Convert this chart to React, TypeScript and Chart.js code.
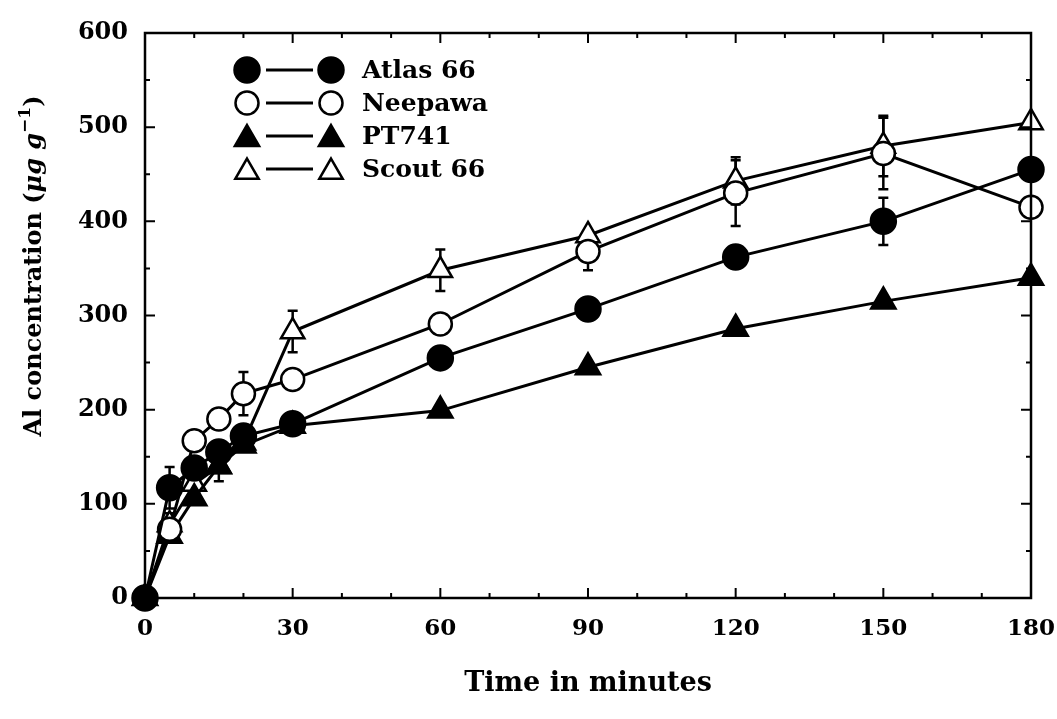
import React, { useEffect, useRef } from "react";
import { Chart, registerables } from "chart.js";
Chart.register(...registerables);

const times = [0, 5, 10, 15, 20, 30, 60, 90, 120, 150, 180];
const atlas66 = [0, 117, 138, 155, 172, 185, 255, 307, 362, 400, 455];
const neepawa = [0, 73, 167, 190, 217, 232, 291, 368, 430, 472, 415];
const pt741 = [0, 66, 106, 140, 162, 183, 199, 245, 286, 315, 340];
const scout66 = [0, 78, 121, 140, 165, 283, 348, 385, 443, 480, 505];

const atlas66Err = [0, 22, 0, 0, 0, 0, 0, 0, 0, 25, 0];
const neepawaErr = [0, 0, 0, 0, 23, 0, 0, 20, 35, 38, 0];
const pt741Err = [0, 0, 0, 0, 0, 0, 0, 0, 0, 0, 0];
const scout66Err = [0, 12, 0, 16, 0, 22, 22, 0, 25, 32, 0];

const seriesNames = ["Atlas 66", "Neepawa", "PT741", "Scout 66"];
const xMajorTicks = [0, 30, 60, 90, 120, 150, 180];
const xMinorTicks = [10, 20, 40, 50, 70, 80, 100, 110, 130, 140, 160, 170];
const yMajorTicks = [0, 100, 200, 300, 400, 500, 600];
const yMinorTicks = [50, 150, 250, 350, 450, 550];

const FONT = "'DejaVu Serif', serif";

const styles = [
  { pointStyle: "circle", fill: "#000", radius: 12.5 },
  { pointStyle: "circle", fill: "#fff", radius: 11.5 },
  { pointStyle: "triangle", fill: "#000", radius: 14 },
  { pointStyle: "triangle", fill: "#fff", radius: 13.5 },
];

const seriesValues = [atlas66, neepawa, pt741, scout66];
const seriesErrs = [atlas66Err, neepawaErr, pt741Err, scout66Err];

function drawMarker(ctx: CanvasRenderingContext2D, style: string, x: number, y: number, r: number) {
  ctx.beginPath();
  if (style === "circle") {
    ctx.arc(x, y, r, 0, Math.PI * 2);
  } else {
    let rad = 0;
    ctx.moveTo(x + Math.sin(rad) * r, y - Math.cos(rad) * r);
    rad += (2 * Math.PI) / 3;
    ctx.lineTo(x + Math.sin(rad) * r, y - Math.cos(rad) * r);
    rad += (2 * Math.PI) / 3;
    ctx.lineTo(x + Math.sin(rad) * r, y - Math.cos(rad) * r);
    ctx.closePath();
  }
  ctx.fill();
  ctx.stroke();
}

export default function App() {
  const ref = useRef<HTMLCanvasElement>(null);
  useEffect(() => {
    document.body.style.margin = "0";
    const canvas = ref.current!;

    const errorBars = {
      id: "errorBars",
      beforeDatasetsDraw(chart: any) {
        const ctx = chart.ctx;
        const xs = chart.scales.x;
        const ys = chart.scales.y;
        ctx.save();
        ctx.strokeStyle = "#000";
        ctx.lineWidth = 2.5;
        seriesErrs.forEach((errs, si) => {
          errs.forEach((e, i) => {
            if (!e) return;
            const v = seriesValues[si][i];
            const px = xs.getPixelForValue(times[i]);
            const yHi = ys.getPixelForValue(v + e);
            const yLo = ys.getPixelForValue(v - e);
            ctx.beginPath();
            ctx.moveTo(px, yHi);
            ctx.lineTo(px, yLo);
            ctx.moveTo(px - 5, yHi);
            ctx.lineTo(px + 5, yHi);
            ctx.moveTo(px - 5, yLo);
            ctx.lineTo(px + 5, yLo);
            ctx.stroke();
          });
        });
        ctx.restore();
      },
    };

    const frame = {
      id: "frame",
      afterDraw(chart: any) {
        const ctx = chart.ctx;
        const a = chart.chartArea;
        const xs = chart.scales.x;
        const ys = chart.scales.y;
        ctx.save();
        ctx.strokeStyle = "#000";
        ctx.lineWidth = 2.5;
        ctx.strokeRect(a.left, a.top, a.right - a.left, a.bottom - a.top);
        ctx.lineWidth = 2;
        ctx.beginPath();
        const tx = (v: number, len: number) => {
          const p = xs.getPixelForValue(v);
          ctx.moveTo(p, a.bottom);
          ctx.lineTo(p, a.bottom - len);
          ctx.moveTo(p, a.top);
          ctx.lineTo(p, a.top + len);
        };
        const ty = (v: number, len: number) => {
          const p = ys.getPixelForValue(v);
          ctx.moveTo(a.left, p);
          ctx.lineTo(a.left + len, p);
          ctx.moveTo(a.right, p);
          ctx.lineTo(a.right - len, p);
        };
        xMajorTicks.forEach((v) => tx(v, 10));
        xMinorTicks.forEach((v) => tx(v, 5));
        yMajorTicks.forEach((v) => ty(v, 10));
        yMinorTicks.forEach((v) => ty(v, 5));
        ctx.stroke();

        // axis titles
        ctx.fillStyle = "#000";
        ctx.textBaseline = "middle";
        ctx.textAlign = "center";
        ctx.font = `bold 27px ${FONT}`;
        ctx.fillText("Time in minutes", 588, 684);

        // y title, rotated, with superscript
        const parts = [
          { t: "Al concentration (", f: `bold 24px ${FONT}`, dy: 0 },
          { t: "μg g", f: `italic bold 24px ${FONT}`, dy: 0 },
          { t: "−1", f: `bold 17px ${FONT}`, dy: -11 },
          { t: ")", f: `bold 24px ${FONT}`, dy: 0 },
        ];
        let total = 0;
        parts.forEach((p) => {
          ctx.font = p.f;
          total += ctx.measureText(p.t).width;
        });
        ctx.translate(32, 266);
        ctx.rotate(-Math.PI / 2);
        ctx.textAlign = "left";
        ctx.textBaseline = "alphabetic";
        let cx = -total / 2;
        parts.forEach((p) => {
          ctx.font = p.f;
          ctx.fillText(p.t, cx, 9 + p.dy);
          cx += ctx.measureText(p.t).width;
        });
        ctx.restore();

        // legend
        ctx.save();
        const rows = [70, 103, 136, 169];
        seriesNames.forEach((name, i) => {
          const y = rows[i];
          const st = styles[i];
          const yy = st.pointStyle === "triangle" ? y + 3 : y;
          ctx.strokeStyle = "#000";
          ctx.lineWidth = 3;
          ctx.beginPath();
          ctx.moveTo(266, y);
          ctx.lineTo(313, y);
          ctx.stroke();
          [247, 331].forEach((x) => {
            ctx.fillStyle = st.fill;
            ctx.strokeStyle = "#000";
            ctx.lineWidth = 2.5;
            drawMarker(ctx, st.pointStyle, x, yy, st.radius);
          });
          ctx.fillStyle = "#000";
          ctx.font = `bold 25px ${FONT}`;
          ctx.textAlign = "left";
          ctx.textBaseline = "middle";
          ctx.fillText(name, 362, y + 1);
        });
        ctx.restore();
      },
    };

    const datasets = seriesNames.map((name, i) => ({
      label: name,
      data: times.map((t, j) => ({ x: t, y: seriesValues[i][j] })),
      borderColor: "#000",
      borderWidth: 3,
      pointStyle: styles[i].pointStyle,
      pointRadius: styles[i].radius,
      pointBackgroundColor: styles[i].fill,
      pointBorderColor: "#000",
      pointBorderWidth: 2.5,
      tension: 0,
      clip: false,
    }));

    const chart = new Chart(canvas, {
      type: "line",
      data: { datasets },
      options: {
        animation: false,
        responsive: true,
        maintainAspectRatio: false,
        layout: { padding: { left: 0, top: 33, right: 26, bottom: 0 } },
        plugins: { legend: { display: false }, tooltip: { enabled: false } },
        scales: {
          x: {
            type: "linear",
            min: 0,
            max: 180,
            grid: { display: false, drawTicks: false },
            border: { display: false },
            afterFit: (s: any) => {
              s.height = 121;
              s.paddingLeft = 0;
              s.paddingRight = 0;
            },
            ticks: {
              stepSize: 30,
              padding: 17,
              color: "#000",
              font: { family: FONT, size: 23, weight: "bold" },
            },
          },
          y: {
            type: "linear",
            min: 0,
            max: 600,
            grid: { display: false, drawTicks: false },
            border: { display: false },
            afterFit: (s: any) => {
              s.width = 145;
              s.paddingTop = 0;
              s.paddingBottom = 0;
            },
            ticks: {
              stepSize: 100,
              padding: 17,
              color: "#000",
              font: { family: FONT, size: 24, weight: "bold" },
            },
          },
        },
      },
      plugins: [errorBars, frame],
    } as any);
    return () => chart.destroy();
  }, []);
  return (
    <div style={{ position: "fixed", left: 0, top: 0, width: 1057, height: 719 }}>
      <canvas ref={ref} />
    </div>
  );
}
